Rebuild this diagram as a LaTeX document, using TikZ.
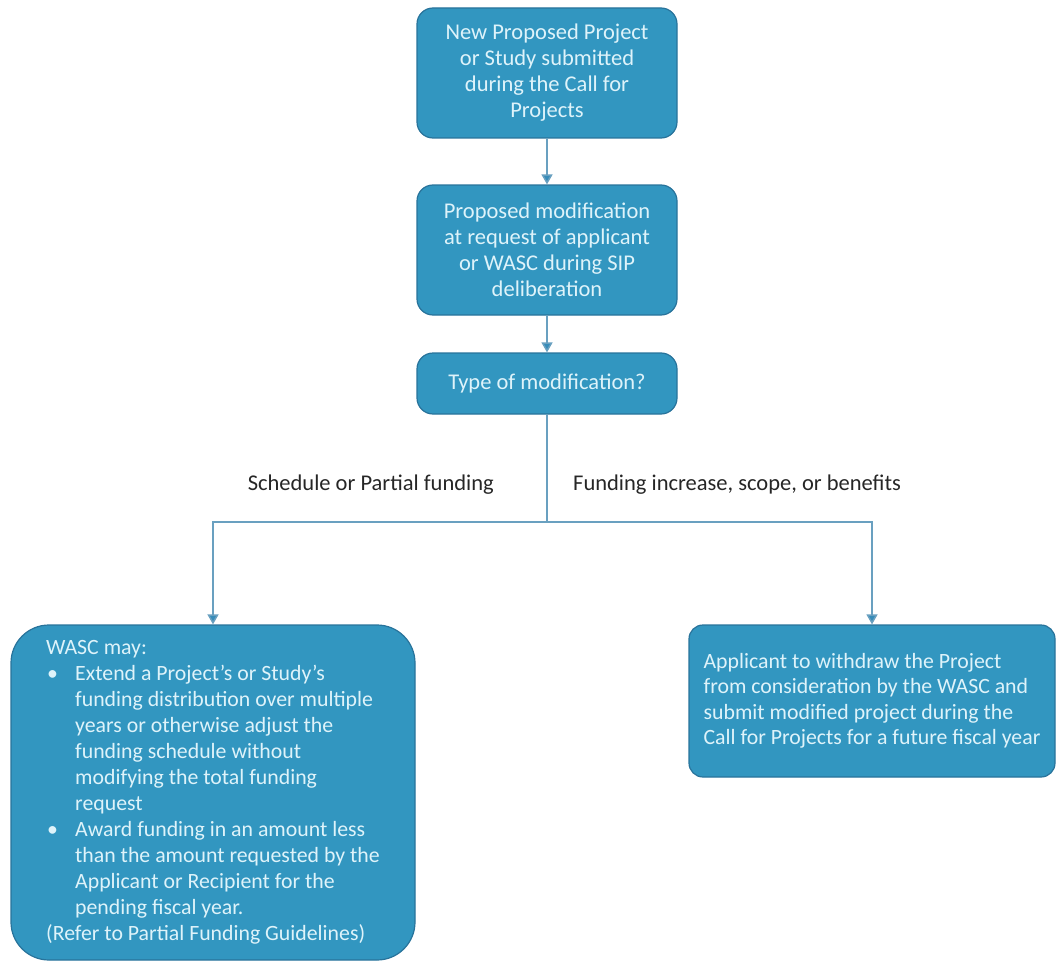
\documentclass[tikz,border=0pt]{standalone}
\usepackage{fontspec}
\setmainfont{Carlito}
\usetikzlibrary{arrows.meta,calc}
\definecolor{boxfill}{RGB}{50,150,192}
\definecolor{boxline}{RGB}{40,115,155}
\definecolor{boxtext}{RGB}{222,243,250}
\definecolor{connc}{RGB}{105,160,192}
\definecolor{tipc}{RGB}{55,140,185}
\definecolor{lblc}{RGB}{38,38,38}
\newcommand{\bulitem}{\makebox[29pt][l]{\hspace{1pt}\textbullet}}
\newcommand{\hangind}{\hspace*{29pt}}
\begin{document}
\begin{tikzpicture}[x=1pt,y=-1pt,
  stepbox/.style={draw=boxline, line width=1.2pt, fill=boxfill, text=boxtext,
    rounded corners=16pt, minimum width=260pt, align=center, inner sep=0pt,
    font=\fontsize{22.5}{26}\selectfont},
  bigbox/.style={draw=boxline, line width=1.2pt, fill=boxfill, text=boxtext,
    align=left, inner sep=0pt, font=\fontsize{21.8}{26}\selectfont},
  lbl/.style={text=lblc, inner sep=0pt, font=\fontsize{22.5}{26}\selectfont},
  connline/.style={draw=connc, line width=1.5pt},
  arr/.style={connline, -{Triangle[width=11pt,length=10pt,fill=tipc]}}
]
\useasboundingbox (0,0) rectangle (1057,963);

\node[stepbox, minimum height=130pt] (n1) at (547,73)
  {New Proposed Project\\or Study submitted\\during the Call for\\Projects};
\node[stepbox, minimum height=130pt] (n2) at (547,250)
  {Proposed modification\\at request of applicant\\or WASC during SIP\\deliberation};
\node[stepbox, minimum height=61pt] (n3) at (547,383.5) {Type of modification?};

\node[bigbox, minimum width=404pt, minimum height=335pt, rounded corners=38pt] (left) at (213,792.5)
  {WASC may:\\
   \bulitem Extend a Project’s or Study’s\\
   \hangind funding distribution over multiple\\
   \hangind years or otherwise adjust the\\
   \hangind funding schedule without\\
   \hangind modifying the total funding\\
   \hangind request\\
   \bulitem Award funding in an amount less\\
   \hangind than the amount requested by the\\
   \hangind Applicant or Recipient for the\\
   \hangind pending fiscal year.\\
   (Refer to Partial Funding Guidelines)};

\node[bigbox, minimum width=366pt, minimum height=152pt, rounded corners=14pt,
      font=\fontsize{21.8}{25.5}\selectfont] (right) at (872,701)
  {Applicant to withdraw the Project\\
   from consideration by the WASC and\\
   submit modified project during the\\
   Call for Projects for a future fiscal year};

\node[lbl, anchor=east] (l1) at (494,485) {Schedule or Partial funding};
\node[lbl, anchor=west] (l2) at (573,485) {Funding increase, scope, or benefits};

\coordinate (split) at (547,522);
\draw[arr] (n1.south) -- (n2.north);
\draw[arr] (n2.south) -- (n3.north);
\draw[connline] (n3.south) -- (split);
\draw[arr] (split) -| (left.north);
\draw[arr] (split) -| (right.north);
\end{tikzpicture}
\end{document}
